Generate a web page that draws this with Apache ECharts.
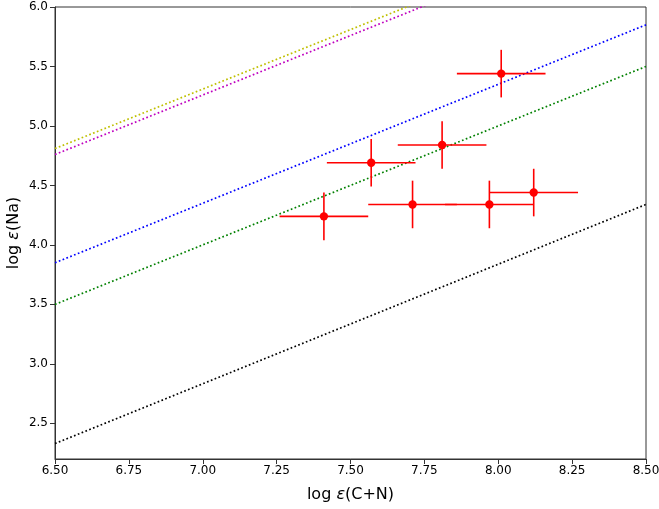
<!DOCTYPE html>
<html>
<head>
<meta charset="utf-8">
<script src="https://cdn.jsdelivr.net/npm/echarts@6/dist/echarts.min.js"></script>
<style>html,body{margin:0;padding:0;background:#fff}#c{width:659px;height:509px}</style>
</head>
<body>
<div id="c"></div>
<script>
// Reference lines: [x, y] at the two ends of the x range
const lineX = [6.5, 8.5];
const yellowLine = [4.81, 6.81];
const magentaLine = [4.76, 6.76];
const blueLine = [3.85, 5.85];
const greenLine = [3.50, 5.50];
const blackLine = [2.33, 4.34];

// Stars: log eps(C+N), log eps(Na), x error, y error
const starX = [7.41, 7.57, 7.71, 7.81, 7.97, 8.01, 8.12];
const starY = [4.24, 4.69, 4.34, 4.84, 4.34, 5.44, 4.44];
const starXErr = [0.15, 0.15, 0.15, 0.15, 0.15, 0.15, 0.15];
const starYErr = [0.20, 0.20, 0.20, 0.20, 0.20, 0.20, 0.20];

const xTicks = [6.5, 6.75, 7.0, 7.25, 7.5, 7.75, 8.0, 8.25, 8.5];
const yTicks = [2.5, 3.0, 3.5, 4.0, 4.5, 5.0, 5.5, 6.0];

const chart = echarts.init(document.getElementById('c'), null, {renderer: 'canvas'});
const font = 'DejaVu Sans';

function lineSeries(vals, color) {
  return {
    type: 'line',
    data: lineX.map((x, i) => [x, vals[i]]),
    symbol: 'none',
    clip: true,
    lineStyle: {color: color, width: 1.7, type: [1.7, 2.4], cap: 'butt'},
    silent: true,
    z: 2
  };
}

const errData = starX.map((x, i) => [x, starY[i], starXErr[i], starYErr[i]]);

chart.setOption({
  animation: false,
  backgroundColor: '#fff',
  grid: {left: 55, right: 13, top: 7, bottom: 50, outerBoundsMode: 'none', containLabel: false, show: true, borderColor: '#333', borderWidth: 1, backgroundColor: 'transparent'},
  xAxis: {
    type: 'value', min: 6.5, max: 8.5, interval: 0.25,
    name: '{n|log }{e|ε}{n|(C+N)}', nameLocation: 'middle', nameGap: 28, nameMoveOverlap: false,
    nameTextStyle: {rich: {n: {fontFamily: font, fontSize: 16, color: '#000'}, e: {fontFamily: font, fontSize: 16, fontStyle: 'italic', color: '#000'}}},
    axisLine: {show: true, lineStyle: {color: '#333', width: 1}},
    axisTick: {show: true, length: 5, inside: false, lineStyle: {color: '#333'}},
    axisLabel: {fontFamily: font, fontSize: 12, color: '#000', margin: 6, formatter: v => v.toFixed(2)},
    splitLine: {show: false}
  },
  yAxis: {
    type: 'value', min: 2.2, max: 6.0,
    name: '{n|log }{e|ε}{n|(Na)}', nameLocation: 'middle', nameGap: 33, nameRotate: 90, nameMoveOverlap: false,
    nameTextStyle: {rich: {n: {fontFamily: font, fontSize: 16, color: '#000'}, e: {fontFamily: font, fontSize: 16, fontStyle: 'italic', color: '#000'}}},
    axisLine: {show: true, lineStyle: {color: '#333', width: 1}},
    axisTick: {show: true, length: 5, inside: false, customValues: yTicks, lineStyle: {color: '#333'}},
    axisLabel: {fontFamily: font, fontSize: 12, color: '#000', margin: 7, customValues: yTicks, formatter: v => v.toFixed(1)},
    splitLine: {show: false}
  },
  series: [
    lineSeries(yellowLine, '#bfbf00'),
    lineSeries(magentaLine, '#bf00bf'),
    lineSeries(blueLine, '#0000ff'),
    lineSeries(greenLine, '#008000'),
    lineSeries(blackLine, '#000000'),
    {
      type: 'custom',
      data: errData,
      z: 5,
      renderItem: function (params, api) {
        const x = api.value(0), y = api.value(1), xe = api.value(2), ye = api.value(3);
        const l = api.coord([x - xe, y]), r = api.coord([x + xe, y]);
        const t = api.coord([x, y + ye]), b = api.coord([x, y - ye]);
        const c = api.coord([x, y]);
        const st = {stroke: '#ff0000', lineWidth: 1.6};
        return {
          type: 'group',
          children: [
            {type: 'line', shape: {x1: l[0], y1: l[1], x2: r[0], y2: r[1]}, style: st},
            {type: 'line', shape: {x1: t[0], y1: t[1], x2: b[0], y2: b[1]}, style: st},
            {type: 'circle', shape: {cx: c[0], cy: c[1], r: 4.2}, style: {fill: '#ff0000'}}
          ]
        };
      }
    }
  ]
});
</script>
</body>
</html>
